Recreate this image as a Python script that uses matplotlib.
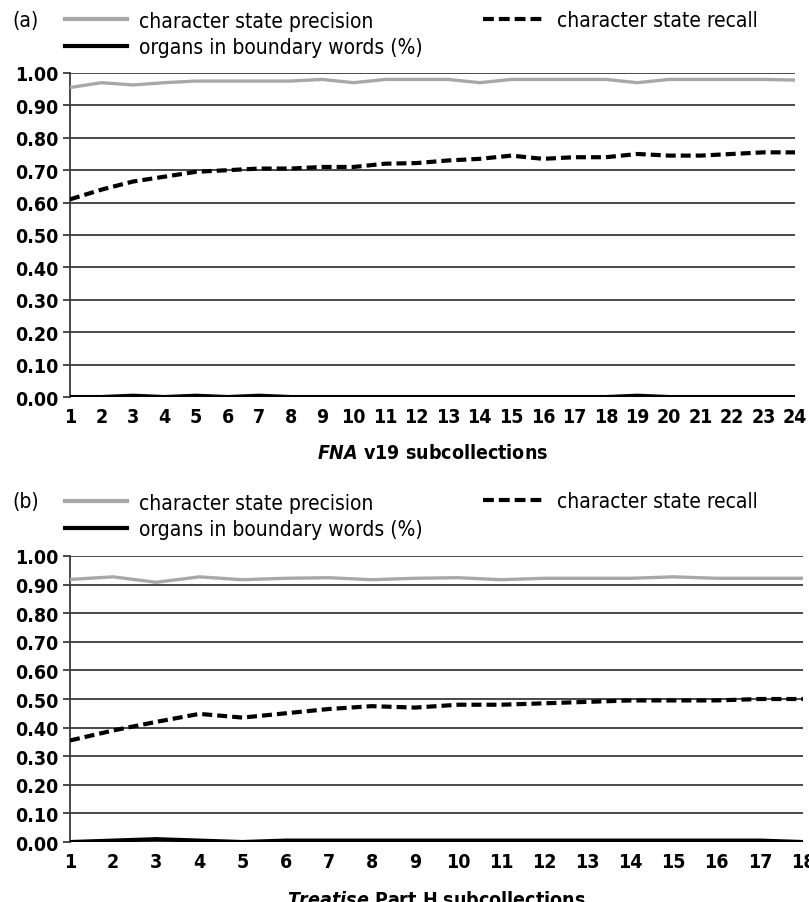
import matplotlib.pyplot as plt
from matplotlib.lines import Line2D

plt.rcParams['font.family'] = ['DejaVu Sans']
plt.rcParams['font.stretch'] = 'condensed'
plt.rcParams['mathtext.fontset'] = 'custom'
plt.rcParams['mathtext.it'] = 'DejaVu Sans:style=italic:weight=bold:stretch=condensed'

# --- data: (a) FNA v19 ---
fna_x = list(range(1, 25))
fna_precision = [0.955, 0.97, 0.963, 0.97, 0.975, 0.975, 0.975, 0.975, 0.98, 0.97, 0.98, 0.98,
                 0.98, 0.97, 0.98, 0.98, 0.98, 0.98, 0.97, 0.98, 0.98, 0.98, 0.98, 0.978]
fna_recall = [0.61, 0.64, 0.665, 0.68, 0.695, 0.70, 0.705, 0.705, 0.71, 0.71, 0.72, 0.722,
              0.73, 0.735, 0.745, 0.735, 0.74, 0.74, 0.75, 0.745, 0.745, 0.75, 0.755, 0.755]
fna_organs = [0, 0, 0.004, 0, 0.004, 0, 0.004, 0, 0, 0, 0, 0,
              0, 0, 0, 0, 0, 0, 0.004, 0, 0, 0, 0, 0]

# --- data: (b) Treatise Part H ---
tr_x = list(range(1, 19))
tr_precision = [0.918, 0.927, 0.908, 0.927, 0.917, 0.922, 0.924, 0.917, 0.922, 0.924, 0.917, 0.922,
                0.922, 0.922, 0.927, 0.922, 0.922, 0.922]
tr_recall = [0.355, 0.39, 0.42, 0.448, 0.435, 0.45, 0.465, 0.475, 0.47, 0.48, 0.48, 0.485,
             0.49, 0.495, 0.495, 0.495, 0.50, 0.50]
tr_organs = [0, 0.005, 0.01, 0.005, 0, 0.005, 0.005, 0.005, 0.005, 0.005, 0.005, 0.005,
             0.005, 0.005, 0.005, 0.005, 0.005, 0]

yticks = [i / 10 for i in range(11)]
gray = '#a8a8a8'
grid = '#3a3a3a'
dash = (0, (2.4, 1.2))

fig = plt.figure(figsize=(8.09, 9.03), dpi=100)


def draw_panel(rect, x, prec, rec, org, xlabel, tag, row1, row2, lpad):
    ax = fig.add_axes(rect)
    for y in yticks:
        ax.axhline(y, color=grid, lw=1.3, zorder=1)
    ax.plot(x, prec, color=gray, lw=2.4, zorder=3)
    ax.plot(x, rec, color='black', lw=3, ls=dash, zorder=3)
    ax.plot(x, org, color='black', lw=3, zorder=3)
    ax.set_xlim(x[0], x[-1])
    ax.set_ylim(0, 1.0)
    ax.set_yticks(yticks)
    ax.set_yticklabels([f'{v:.2f}' for v in yticks], fontsize=14, fontweight='bold')
    ax.set_xticks(x)
    ax.set_xticklabels([str(v) for v in x], fontsize=14, fontweight='bold')
    ax.tick_params(axis='x', length=0, pad=7.5)
    ax.tick_params(axis='y', length=5, width=1.3, color=grid, pad=3)
    for s in ['top', 'right', 'bottom']:
        ax.spines[s].set_visible(False)
    ax.spines['left'].set_linewidth(1.3)
    ax.spines['left'].set_color(grid)
    ax.set_xlabel(xlabel, fontsize=14, fontweight='bold', labelpad=lpad)
    ax.patch.set_alpha(0)

    # panel tag and two-column legend
    fig.text(0.0148, row1, tag, fontsize=15, va='center', ha='left')
    fig.legend([Line2D([], [], color=gray, lw=3), Line2D([], [], color='black', lw=3)],
               ['character state precision', 'organs in boundary words (%)'],
               loc='center left', bbox_to_anchor=(0.080, (row1 + row2) / 2),
               frameon=False, borderpad=0, borderaxespad=0, fontsize=15,
               handlelength=3.0, handletextpad=0.55, labelspacing=0.33)
    fig.legend([Line2D([], [], color='black', lw=3, ls=(0, (2.6, 1.2)))],
               ['character state recall'],
               loc='center left', bbox_to_anchor=(0.597, row1),
               frameon=False, borderpad=0, borderaxespad=0, fontsize=15,
               handlelength=3.0, handletextpad=0.55)
    return ax


draw_panel([0.0865, 0.5592, 0.8962, 0.3589], fna_x, fna_precision, fna_recall, fna_organs,
           r'$\mathit{FNA}$ v19 subcollections', '(a)', 0.9767, 0.9457, 12)
draw_panel([0.0865, 0.0664, 0.906, 0.3168], tr_x, tr_precision, tr_recall, tr_organs,
           r'$\mathit{Treatise}$ Part H subcollections', '(b)', 0.4441, 0.4109, 13)

fig.savefig('out.png', dpi=100)
